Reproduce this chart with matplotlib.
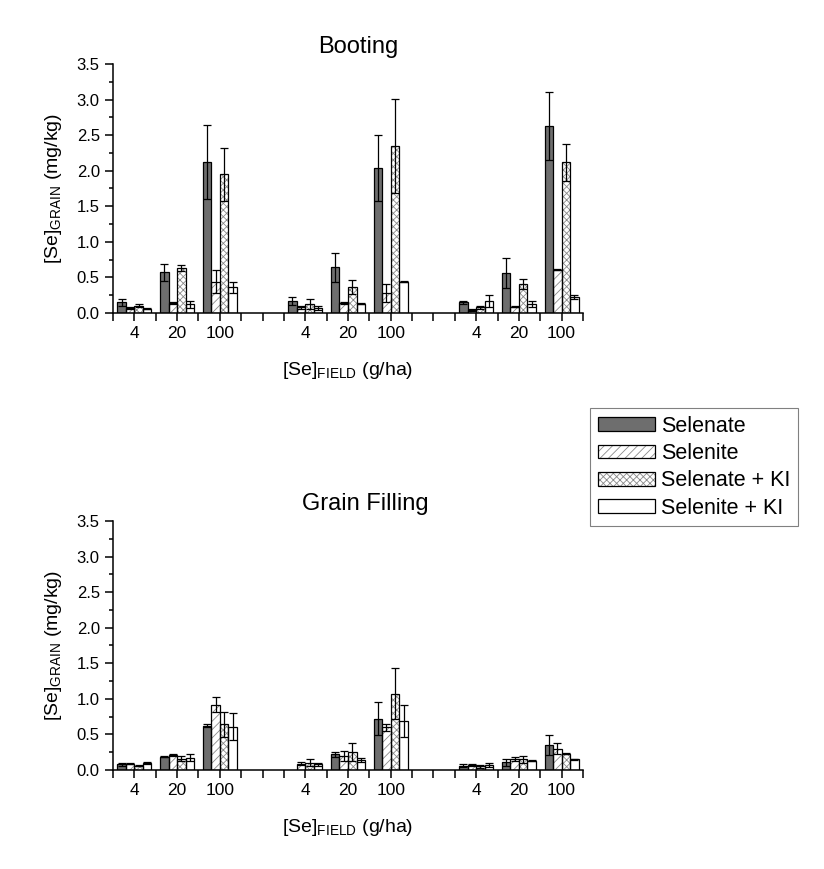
import numpy as np
import matplotlib
matplotlib.use("Agg")
import matplotlib.pyplot as plt
from matplotlib.patches import Patch

plt.rcParams["font.family"] = ["Liberation Sans", "DejaVu Sans"]
plt.rcParams["mathtext.fontset"] = "custom"
plt.rcParams["mathtext.rm"] = "Liberation Sans"
plt.rcParams["hatch.linewidth"] = 0.6

# three field trials, each with doses 4 / 20 / 100 g/ha
doses = ["4", "20", "100"] * 3
positions = [1, 2, 3, 5, 6, 7, 9, 10, 11]
treatments = ["Selenate", "Selenite", "Selenate + KI", "Selenite + KI"]

booting_selenate = [0.15, 0.57, 2.12, 0.17, 0.64, 2.04, 0.15, 0.56, 2.63]
booting_selenate_err = [0.05, 0.12, 0.52, 0.06, 0.20, 0.46, 0.02, 0.21, 0.48]
booting_selenite = [0.07, 0.14, 0.44, 0.08, 0.14, 0.28, 0.04, 0.09, 0.61]
booting_selenite_err = [0.01, 0.02, 0.16, 0.02, 0.01, 0.13, 0.01, 0.01, 0.01]
booting_selenate_ki = [0.10, 0.63, 1.95, 0.12, 0.37, 2.35, 0.08, 0.41, 2.12]
booting_selenate_ki_err = [0.02, 0.04, 0.37, 0.07, 0.10, 0.66, 0.02, 0.07, 0.26]
booting_selenite_ki = [0.06, 0.12, 0.36, 0.07, 0.13, 0.44, 0.17, 0.13, 0.22]
booting_selenite_ki_err = [0.01, 0.05, 0.08, 0.03, 0.01, 0.01, 0.08, 0.04, 0.03]

filling_selenate = [0.08, 0.19, 0.62, np.nan, 0.22, 0.72, 0.06, 0.11, 0.35]
filling_selenate_err = [0.02, 0.01, 0.02, np.nan, 0.035, 0.23, 0.02, 0.05, 0.14]
filling_selenite = [0.09, 0.21, 0.92, 0.09, 0.20, 0.60, 0.07, 0.15, 0.30]
filling_selenite_err = [0.01, 0.01, 0.10, 0.025, 0.07, 0.05, 0.02, 0.03, 0.08]
filling_selenate_ki = [0.06, 0.16, 0.64, 0.10, 0.25, 1.07, 0.05, 0.15, 0.23]
filling_selenate_ki_err = [0.01, 0.04, 0.18, 0.05, 0.13, 0.36, 0.02, 0.05, 0.01]
filling_selenite_ki = [0.10, 0.17, 0.61, 0.08, 0.14, 0.69, 0.07, 0.13, 0.15]
filling_selenite_ki_err = [0.01, 0.05, 0.19, 0.02, 0.03, 0.23, 0.03, 0.01, 0.01]

styles = [
    dict(facecolor="#6e6e6e", hatch=None),
    dict(facecolor="white", hatch="////"),
    dict(facecolor="white", hatch="xxxxx"),
    dict(facecolor="white", hatch=None),
]
hatch_grey = "#8a8a8a"
width = 0.2
offsets = [-0.3, -0.1, 0.1, 0.3]


def draw_panel(ax, title, title_x, series):
    x = np.array(positions, dtype=float)
    for (vals, errs), st, off in zip(series, styles, offsets):
        vals = np.array(vals, dtype=float)
        # fill + grey hatch first, then black outline on top
        ax.bar(x + off, vals, width, color=st["facecolor"], hatch=st["hatch"],
               edgecolor=hatch_grey, linewidth=0, zorder=2)
        ax.bar(x + off, vals, width, fill=False, edgecolor="black",
               linewidth=0.9, zorder=3)
        ax.errorbar(x + off, vals, yerr=errs, fmt="none", ecolor="black",
                    elinewidth=0.9, capsize=3.2, capthick=0.9, zorder=4)

    ax.set_xlim(0.5, 11.5)
    ax.set_ylim(0, 3.5)
    ticks = np.arange(0.5, 11.51, 0.5)
    ax.set_xticks(ticks)
    ax.set_xticklabels([dict(zip(positions, doses)).get(t, "") for t in ticks],
                       fontsize=12.5)
    ax.set_yticks(np.arange(0, 3.51, 0.5))
    ax.set_yticks(np.arange(0, 3.51, 0.25), minor=True)
    ax.set_yticklabels([f"{v:.1f}" for v in np.arange(0, 3.51, 0.5)], fontsize=12)
    ax.tick_params(direction="out", width=1.1, length=6)
    ax.tick_params(axis="y", which="minor", direction="out", width=1.1, length=3)
    for s in ["top", "right"]:
        ax.spines[s].set_visible(False)
    for s in ["left", "bottom"]:
        ax.spines[s].set_linewidth(1.1)
    ax.set_title(title, fontsize=17, x=title_x, pad=8)
    ax.set_xlabel(r"[Se]$_{\mathregular{FIELD}}$ (g/ha)", fontsize=14)
    ax.xaxis.set_label_coords(0.5, -0.19)
    ax.set_ylabel(r"[Se]$_{\mathregular{GRAIN}}$ (mg/kg)", fontsize=14)
    ax.yaxis.set_label_coords(-0.105, 0.5)


fig = plt.figure(figsize=(8.24, 8.69), dpi=100)
ax1 = fig.add_axes([0.1371, 0.6398, 0.5704, 0.2866])
ax2 = fig.add_axes([0.1371, 0.1139, 0.5704, 0.2866])

draw_panel(ax1, "Booting", 0.521, [
    (booting_selenate, booting_selenate_err),
    (booting_selenite, booting_selenite_err),
    (booting_selenate_ki, booting_selenate_ki_err),
    (booting_selenite_ki, booting_selenite_ki_err),
])
draw_panel(ax2, "Grain Filling", 0.536, [
    (filling_selenate, filling_selenate_err),
    (filling_selenite, filling_selenite_err),
    (filling_selenate_ki, filling_selenate_ki_err),
    (filling_selenite_ki, filling_selenite_ki_err),
])

handles = []
for st in styles:
    handles.append((Patch(facecolor=st["facecolor"], hatch=st["hatch"],
                          edgecolor=hatch_grey, linewidth=0),
                    Patch(fill=False, edgecolor="black", linewidth=0.9)))
leg = fig.legend(handles, treatments, loc="upper left",
                 bbox_to_anchor=(590 / 824, 1 - 408 / 869), fontsize=15.5,
                 frameon=True, fancybox=False, framealpha=1, edgecolor="#808080",
                 handlelength=2.65, handleheight=0.6, handletextpad=0.3,
                 labelspacing=0.3, borderpad=0.35, borderaxespad=0)
leg.get_frame().set_linewidth(0.8)

fig.savefig("out.png", dpi=100)
